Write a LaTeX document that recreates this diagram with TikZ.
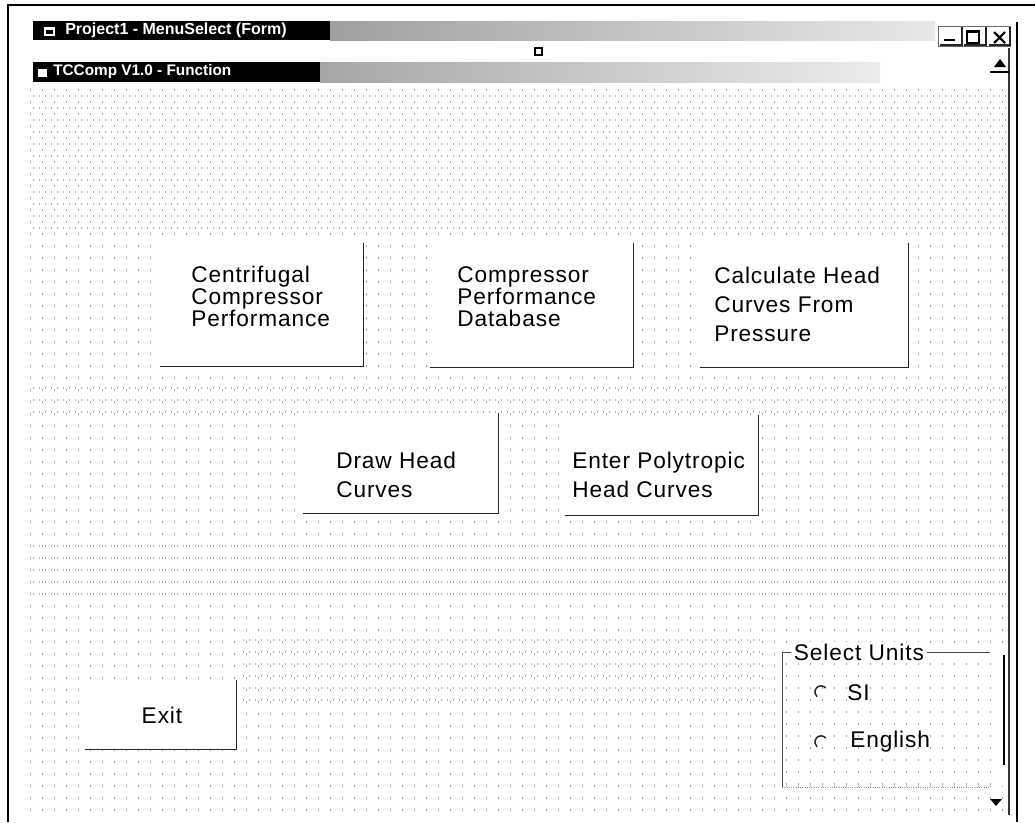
\documentclass[tikz,border=0pt]{standalone}
\usepackage{fontspec}
\setmainfont{Liberation Sans}
\newfontfamily\btnfont[LetterSpace=4]{Liberation Sans}
\begin{document}
\begin{tikzpicture}[x=0.75pt,y=-0.75pt,
  btnbox/.style={draw=none,fill=white,inner sep=0pt,anchor=north west},
  shadowline/.style={draw=black!85,line width=1.4pt},
  lbl/.style={font=\btnfont\fontsize{17}{16.5}\selectfont,align=left,inner sep=0pt,anchor=north west,text=black},
  lblwide/.style={font=\btnfont\fontsize{17}{21.5}\selectfont,align=left,inner sep=0pt,anchor=north west,text=black},
  single/.style={font=\btnfont\fontsize{17}{20}\selectfont,inner sep=0pt,text=black},
  dotrow/.style={gray!75,line width=0.9pt,dash pattern=on 0.9pt off 8.1pt},
  dotrowb/.style={gray!60,line width=0.8pt,dash pattern=on 0.8pt off 3.7pt,dash phase=2pt},
  border/.style={draw=black,line width=1.2pt},
  radio/.style={draw=black!85,line width=1.1pt},
  titletext/.style={text=white,font=\bfseries\fontsize{12}{14}\selectfont,inner sep=0pt,anchor=west}
]
\useasboundingbox (0,0) rectangle (1035,822);
\fill[white] (0,0) rectangle (1035,822);

% dotted design grid
\foreach \y in {90,102,...,814} \draw[dotrow] (30,\y) -- (1006,\y);
\foreach \y in {96,108,...,234} \draw[dotrowb] (30,\y) -- (1006,\y);
\foreach \y in {388,400,412} \draw[dotrowb] (30,\y) -- (1006,\y);
\foreach \y in {546,558,...,594} \draw[dotrowb] (30,\y) -- (1006,\y);
\foreach \y in {640,652,...,700} \draw[dotrowb] (240,\y) -- (760,\y);

% outer window borders
\draw[border] (8,822) -- (8,5) -- (1035,5);
\draw[draw=black,line width=1.9pt] (1017,22) -- (1017,822);
\draw[draw=black!80,line width=0.8pt] (1009,48) -- (1009,815);

% title bar 1
\fill[black] (33,21) rectangle (330,40);
\shade[left color=gray!75,right color=gray!18] (330,21) rectangle (935,40);
\fill[white] (44,27) rectangle (55,36);
\fill[black] (46,30) rectangle (53,34);
\node[titletext] (title1) at (65,30.5) {Project1 - MenuSelect (Form)};

% window buttons
\draw[black!60,line width=0.5pt] (938,26) rectangle (1010,46);
\draw[shadowline,line width=1pt] (940,45) -- (962,45) -- (962,27);
\draw[shadowline,line width=1pt] (964,45) -- (986,45) -- (986,27);
\draw[shadowline,line width=1pt] (989,45) -- (1010,45) -- (1010,27);
\draw[black,line width=1.6pt] (944,40) -- (955,40);
\draw[black,line width=1pt] (967,31) rectangle (979,43);
\draw[black,line width=1.5pt] (967,31.5) -- (979,31.5);
\draw[black,line width=1.6pt] (994,32) -- (1005,43) (994,43) -- (1005,32);

% sizing handle
\draw[black,line width=0.8pt,fill=white] (535,48) rectangle (542,55);

% title bar 2
\fill[black] (33,62) rectangle (320,82);
\shade[left color=gray!70,right color=gray!15] (320,62) rectangle (880,82);
\fill[white] (38,69) rectangle (47,77);
\node[titletext,font=\bfseries\fontsize{11.5}{14}\selectfont] (title2) at (53,72) {TCComp V1.0 - Function};

% scroll arrows
\fill[black] (994,67) -- (1006,67) -- (1000,59) -- cycle;
\draw[black,line width=1pt] (990,72) -- (1009,72);
\fill[black] (990,799) -- (1002,799) -- (996,806) -- cycle;
\draw[black,line width=1pt] (988,764) -- (1004,764) -- (1004,655);

% buttons
\node[btnbox,minimum width=208*0.75pt,minimum height=123*0.75pt] (b1) at (155,243) {};
\draw[shadowline] ([xshift=4pt]b1.south west) -- (b1.south east) -- (b1.north east);
\node[lbl] (t1) at (191,266) {Centrifugal\\Compressor\\Performance};

\node[btnbox,minimum width=203*0.75pt,minimum height=124*0.75pt] (b2) at (430,243) {};
\draw[shadowline] (b2.south west) -- (b2.south east) -- (b2.north east);
\node[lbl] (t2) at (457,266) {Compressor\\Performance\\Database};

\node[btnbox,minimum width=208*0.75pt,minimum height=124*0.75pt] (b3) at (700,243) {};
\draw[shadowline] (b3.south west) -- (b3.south east) -- (b3.north east);
\node[lblwide] (t3) at (714,267) {Calculate Head\\Curves From\\Pressure};

\node[btnbox,minimum width=195*0.75pt,minimum height=100*0.75pt] (b4) at (303,413) {};
\draw[shadowline] (b4.south west) -- (b4.south east) -- (b4.north east);
\node[lblwide] (t4) at (336,452) {Draw Head\\Curves};

\node[btnbox,minimum width=193*0.75pt,minimum height=100*0.75pt] (b5) at (565,415) {};
\draw[shadowline] (b5.south west) -- (b5.south east) -- (b5.north east);
\node[lblwide] (t5) at (572,452) {Enter Polytropic\\Head Curves};

\node[btnbox,minimum width=151*0.75pt,minimum height=69*0.75pt] (b6) at (85,680) {};
\draw[shadowline] (b6.south west) -- (b6.south east) -- (b6.north east);
\node[single] (t6) at (162,715) {Exit};

% Select Units frame
\coordinate (fnw) at (782,652);
\coordinate (fsw) at (782,787);
\coordinate (fse) at (990,787);
\coordinate (fne) at (990,652);
\fill[white] (783,653) rectangle (1003,786);
\foreach \y in {664,676,...,784} \draw[dotrow] (786,\y) -- (1000,\y);
\draw[black!70,line width=0.7pt] (fne) -- (fnw) -- (fsw);
\draw[black!45,line width=0.7pt,densely dotted] (fsw) -- (fse);
\node[single,fill=white,inner xsep=2pt,inner ysep=1pt,anchor=west] (units) at (791,652) {Select Units};

\coordinate (r1) at (821,692);
\coordinate (r2) at (821,742);
\draw[radio] (r1) ++(40:4.6pt) arc[start angle=40,end angle=230,radius=4.6pt];
\draw[radio] (r2) ++(40:4.6pt) arc[start angle=40,end angle=230,radius=4.6pt];
\node[single,anchor=west] (si) at (847,693) {SI};
\node[single,anchor=west] (eng) at (850,742) {English};
\end{tikzpicture}
\end{document}
